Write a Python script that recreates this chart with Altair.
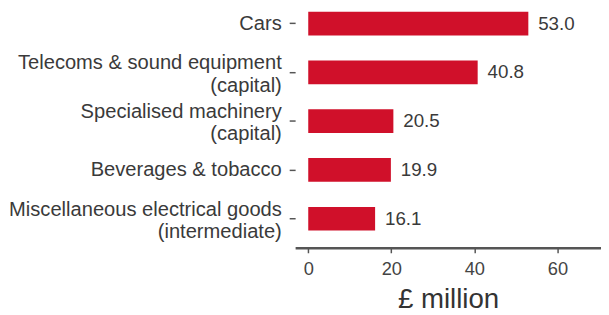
import altair as alt
import pandas as pd

categories = [
    "Cars",
    "Telecoms & sound equipment (capital)",
    "Specialised machinery (capital)",
    "Beverages & tobacco",
    "Miscellaneous electrical goods (intermediate)",
]
values = [53.0, 40.8, 20.5, 19.9, 16.1]
x_ticks = [0, 20, 40, 60]

df = pd.DataFrame({"category": categories, "value": values})

FONT = "Liberation Sans"
RED = "#d0102a"
TEXT = "#3a3a3a"
X_DOMAIN = [-3.16, 70.5]

two_line = "indexof(datum.label, ' (') > 0"

y_axis = alt.Axis(
    title=None,
    domain=False,
    ticks=True,
    tickSize=6,
    tickColor="#555555",
    tickWidth=1.5,
    labelPadding=8,
    labelFontSize=20.4,
    labelFont=FONT,
    labelColor=TEXT,
    labelLineHeight=22.5,
    labelLimit=400,
    labelOffset={"condition": {"test": two_line, "value": -9}, "value": 0},
    labelExpr=two_line + " ? [substring(datum.label, 0, indexof(datum.label, ' (')), substring(datum.label, indexof(datum.label, ' (') + 1)] : datum.label",
)

x_axis = alt.Axis(
    title="£ million",
    values=x_ticks,
    grid=False,
    domain=True,
    domainColor="#555555",
    domainWidth=2.5,
    tickColor="#555555",
    tickSize=5,
    tickWidth=1.5,
    labelFontSize=18.5,
    labelFont=FONT,
    labelColor="#444444",
    labelPadding=7,
    titleFont=FONT,
    titleFontSize=28,
    titleFontWeight="normal",
    titleColor="#333333",
    titlePadding=8,
)

y_scale = alt.Scale(paddingInner=0.514, paddingOuter=0.195, align=0.093)
x_scale = alt.Scale(domain=X_DOMAIN, nice=False, zero=False)

bars = alt.Chart(df).mark_bar(color=RED).encode(
    x=alt.X("value:Q", scale=x_scale, axis=x_axis),
    x2=alt.X2(datum=0),
    y=alt.Y("category:N", sort=categories, scale=y_scale, axis=y_axis),
)

labels = alt.Chart(df).mark_text(
    align="left", baseline="middle", dx=10, fontSize=19, font=FONT, color=TEXT
).encode(
    x=alt.X("value:Q", scale=x_scale, axis=x_axis),
    y=alt.Y("category:N", sort=categories, scale=y_scale, axis=y_axis),
    text=alt.Text("value:Q", format=".1f"),
)

chart = (
    alt.layer(bars, labels)
    .properties(
        width=310,
        height=241,
        background="white",
        autosize=alt.AutoSizeParams(type="none"),
        padding={"left": 291, "top": 0, "right": 0, "bottom": 66},
    )
    .configure_view(stroke="transparent", strokeWidth=0)
)

chart.save("out.html", embed_options={"renderer": "svg", "actions": False})
